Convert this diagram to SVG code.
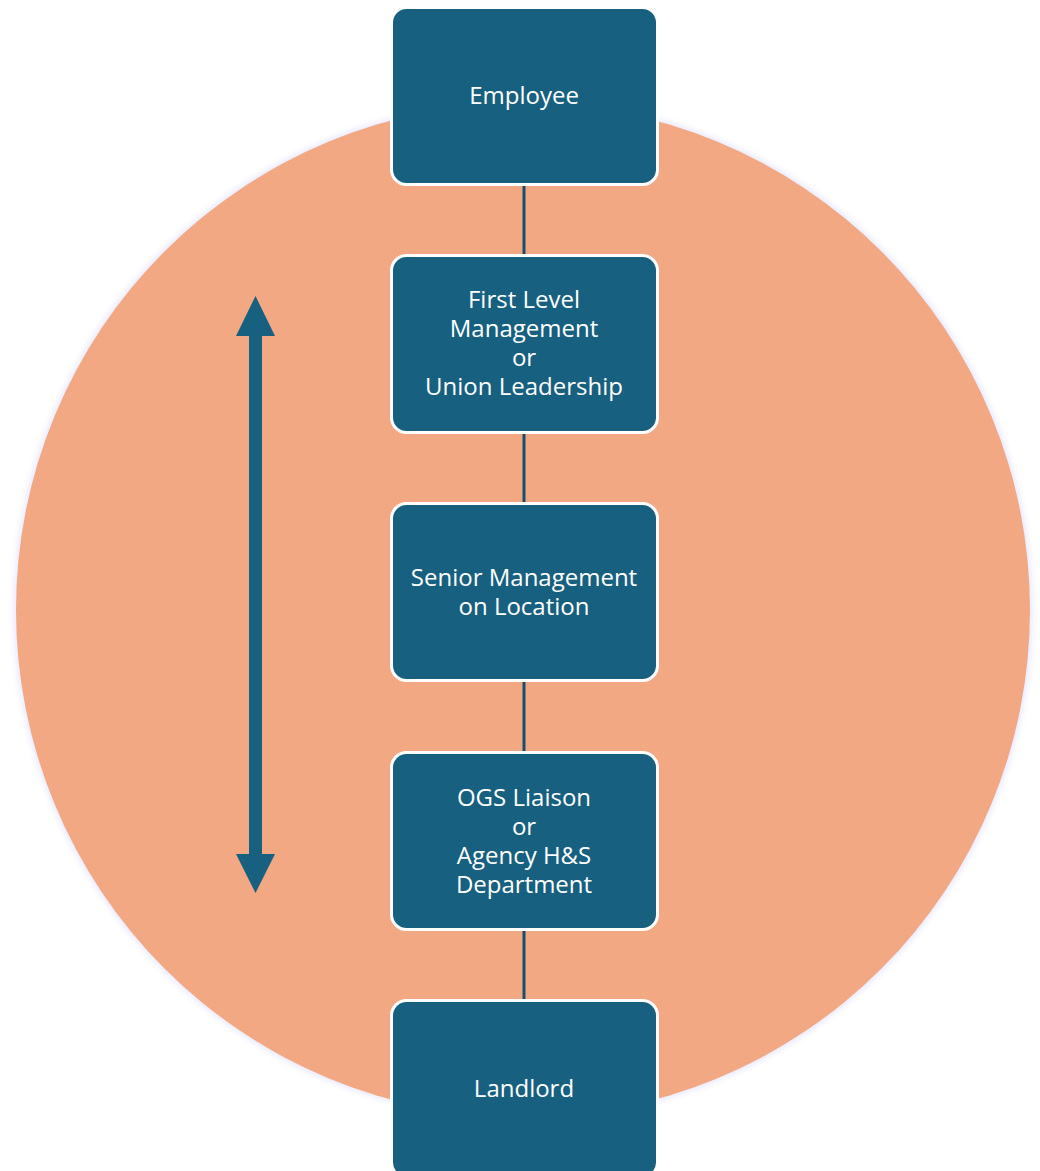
<svg xmlns="http://www.w3.org/2000/svg" width="1040" height="1171" viewBox="0 0 1040 1171">
<defs>
<style>
.box{fill:#17607f;stroke:#ffffff;stroke-width:3}
.lbl{fill:#ffffff;font-family:"Open Sans","Liberation Sans",sans-serif;font-size:24px;text-anchor:middle;dominant-baseline:central}
.conn{stroke:#17506b;stroke-width:3}
</style>
<filter id="glow" x="-5%" y="-5%" width="110%" height="110%">
<feGaussianBlur stdDeviation="3"/>
</filter>
</defs>
<rect width="1040" height="1171" fill="#ffffff"/>
<g id="background">
<circle cx="523" cy="610" r="509" fill="#e6e6ff" filter="url(#glow)"/>
<circle cx="523" cy="610" r="507" fill="#f2a983"/>
</g>
<g id="connectors">
<line class="conn" x1="524" y1="184" x2="524" y2="255"/>
<line class="conn" x1="524" y1="433" x2="524" y2="503"/>
<line class="conn" x1="524" y1="681" x2="524" y2="752"/>
<line class="conn" x1="524" y1="930" x2="524" y2="1000"/>
</g>
<g id="arrow">
<rect x="249" y="334" width="13" height="522" fill="#17607f"/>
<polygon points="255.5,296 275,336 236,336" fill="#17607f"/>
<polygon points="255.5,893 275,854 236,854" fill="#17607f"/>
</g>
<g id="node-employee">
<rect class="box" x="391.5" y="7.5" width="266" height="177" rx="15"/>
<text class="lbl" x="524" y="94">Employee</text>
</g>
<g id="node-first-level">
<rect class="box" x="391.5" y="255.5" width="266" height="177" rx="15"/>
<text class="lbl" x="524" y="298">First Level</text>
<text class="lbl" x="524" y="327">Management</text>
<text class="lbl" x="524" y="356">or</text>
<text class="lbl" x="524" y="385">Union Leadership</text>
</g>
<g id="node-senior">
<rect class="box" x="391.5" y="503.5" width="266" height="177" rx="15"/>
<text class="lbl" x="524" y="576">Senior Management</text>
<text class="lbl" x="524" y="605">on Location</text>
</g>
<g id="node-ogs">
<rect class="box" x="391.5" y="752.5" width="266" height="177" rx="15"/>
<text class="lbl" x="524" y="796">OGS Liaison</text>
<text class="lbl" x="524" y="825">or</text>
<text class="lbl" x="524" y="854">Agency H&amp;S</text>
<text class="lbl" x="524" y="883">Department</text>
</g>
<g id="node-landlord">
<rect class="box" x="391.5" y="1000.5" width="266" height="177" rx="15"/>
<text class="lbl" x="524" y="1087">Landlord</text>
</g>
</svg>
